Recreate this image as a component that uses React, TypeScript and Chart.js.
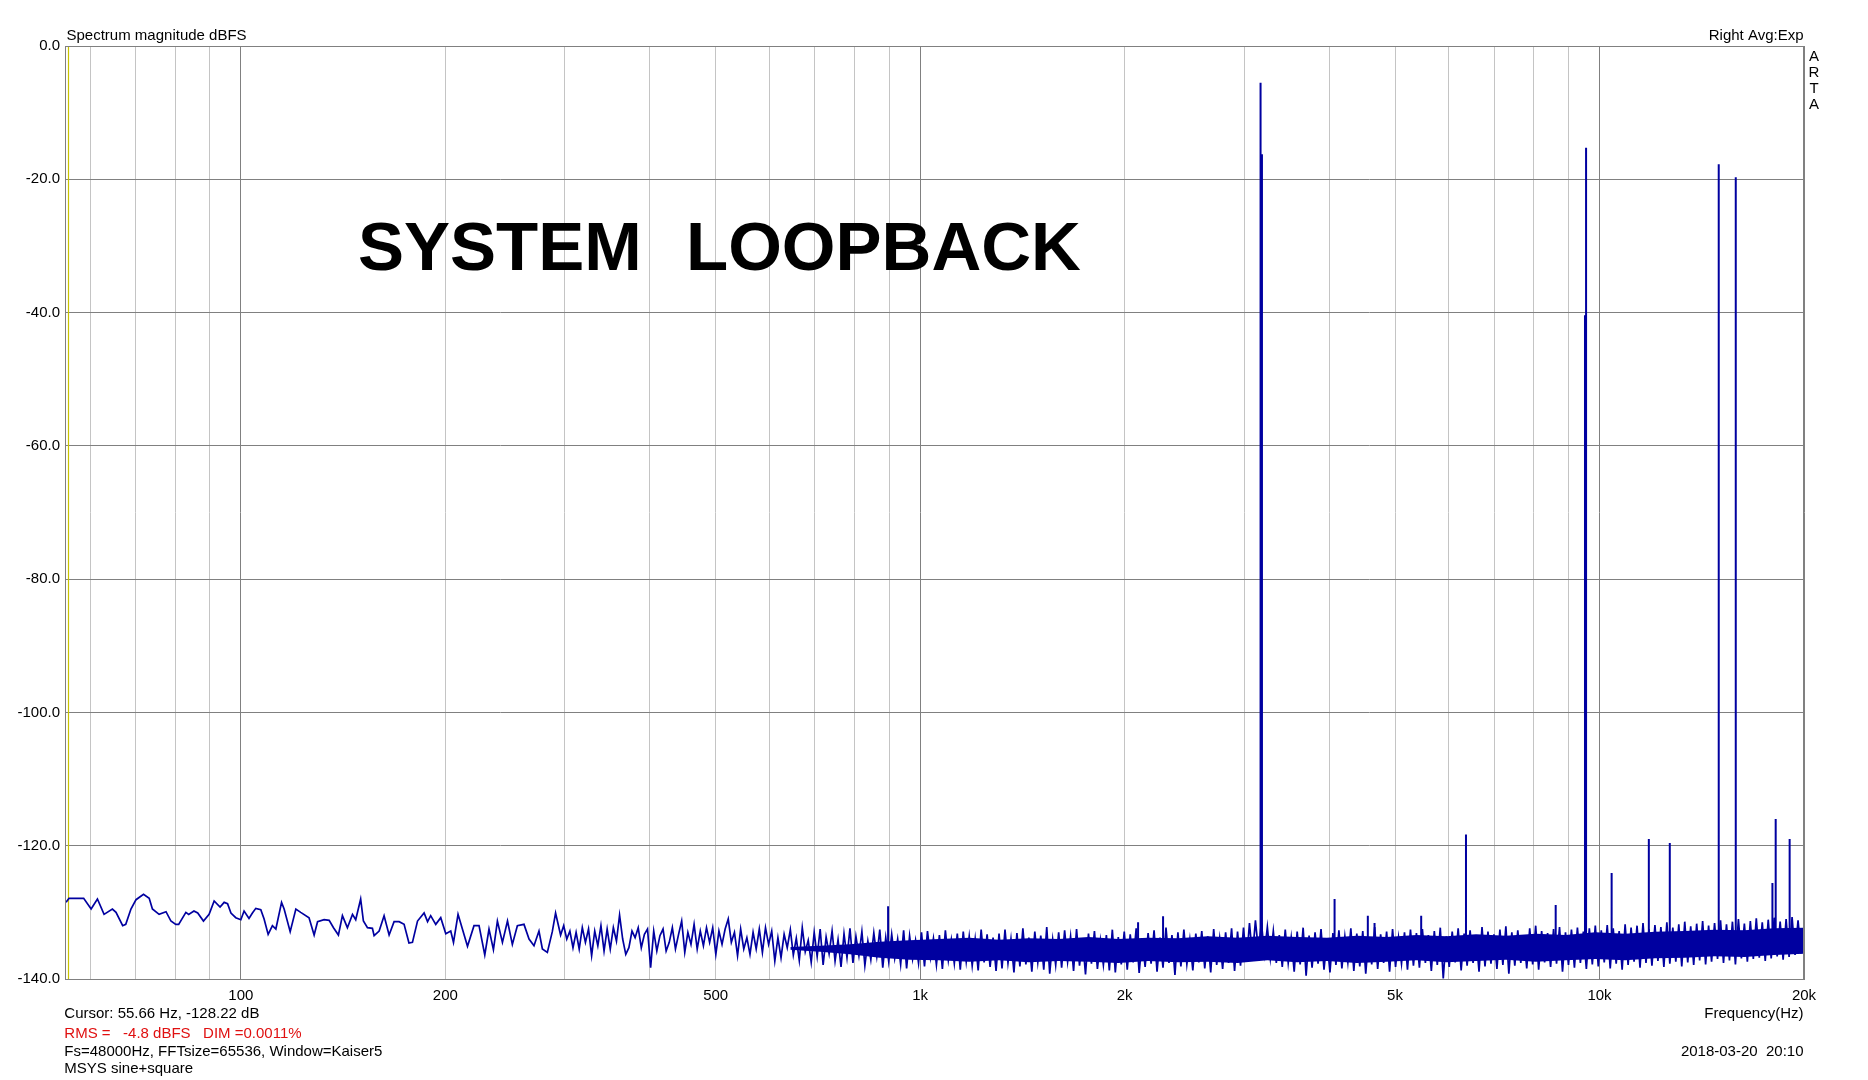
import React, { useEffect, useRef } from "react";
import { Chart, registerables } from "chart.js";

Chart.register(...registerables);

// ---------- axis definitions ----------
const X_MIN_HZ = 55.1;
const X_MAX_HZ = 20000;
const X_GRID_HZ = [60, 70, 80, 90, 100, 200, 300, 400, 500, 600, 700, 800, 900, 1000, 2000, 3000, 4000, 5000, 6000, 7000, 8000, 9000, 10000, 20000];
const X_MAJOR_HZ = [100, 1000, 10000, 20000];
const X_LABEL_HZ = [100, 200, 500, 1000, 2000, 5000, 10000, 20000];
const X_LABEL_TEXT = ["100", "200", "500", "1k", "2k", "5k", "10k", "20k"];
const Y_MIN_DB = -140;
const Y_MAX_DB = 0;
const Y_STEP_DB = 20;

// ---------- texts ----------
const Y_TITLE = "Spectrum magnitude dBFS";
const TOP_RIGHT = "Right Avg:Exp";
const SIDE_LETTERS = ["A", "R", "T", "A"];
const X_TITLE = "Frequency(Hz)";
const CHART_TITLE = "SYSTEM  LOOPBACK";
const INFO_LINES = [
  "Cursor: 55.66 Hz, -128.22 dB",
  "RMS =   -4.8 dBFS   DIM =0.0011%",
  "Fs=48000Hz, FFTsize=65536, Window=Kaiser5",
  "MSYS sine+square",
];
const DATE_TEXT = "2018-03-20  20:10";
const CURSOR_HZ = 55.66;

// ---------- spectrum: low-frequency trace (explicit bins) ----------
const LF_HZ = [55.3, 55.85, 58.7, 60.2, 61.5, 62.9, 64.7, 65.5, 67.0, 67.7, 68.9, 70.1, 71.9, 73.3, 74.1, 75.8, 77.6, 78.9, 80.2, 81.0, 83.0, 83.8, 85.3, 86.4, 88.1, 89.8, 91.35, 93.2, 94.5, 95.6, 96.7, 98.3, 100, 101.1, 102.8, 104.0, 105.2, 107.0, 108.2, 109.7, 111.3, 112.6, 114.8, 115.8, 118.2, 120.5, 122.5, 126.0, 128.2, 129.7, 132.6, 134.9, 136.9, 139.2, 141.1, 143.5, 146.0, 147.6, 150.1, 151.5, 153.6, 156.2, 157.1, 159.8, 162.5, 165.3, 168.1, 171.0, 173.9, 176.8, 178.9, 182.0, 186.1, 188.3, 190.3, 193.6, 196.9, 200.3, 203.7, 205.6, 208.8, 211.9, 215.6, 220.4, 224.2, 228.6, 231.9, 235.4, 238.6, 242.7, 246.9, 251.0, 255.3, 261.1, 265.6, 270.1, 274.7, 277.9, 282.6, 287.4, 290.6, 295.6];
const LF_DB = [-128.5, -127.9, -127.9, -129.5, -128.0, -130.3, -129.5, -130.0, -132.0, -131.8, -129.5, -128.1, -127.3, -127.9, -129.5, -130.3, -129.9, -131.3, -131.8, -131.8, -130.0, -130.3, -129.8, -130.1, -131.3, -130.3, -128.3, -129.2, -128.5, -128.7, -130.1, -130.8, -131.1, -129.8, -130.9, -130.1, -129.4, -129.6, -131.0, -133.3, -132.0, -132.5, -128.5, -129.5, -132.9, -129.5, -130.0, -130.8, -133.4, -131.4, -131.1, -131.2, -132.3, -133.4, -130.5, -132.3, -130.3, -131.1, -128.0, -131.3, -132.3, -132.4, -133.5, -132.8, -130.5, -133.4, -131.4, -131.4, -131.8, -134.6, -134.5, -131.3, -130.1, -131.4, -130.5, -131.8, -130.8, -133.2, -132.8, -134.5, -130.3, -132.5, -135.1, -132.0, -132.0, -136.4, -132.5, -135.6, -131.3, -134.5, -131.3, -134.8, -132.0, -131.8, -134.0, -135.0, -132.8, -135.5, -136.0, -132.9, -130.1, -133.4];

// ---------- spectrum: mid band (bins evenly spread over the band) ----------
const MID_START_HZ = 298.7;
const MID_END_HZ = 644;
const MID_DB = [-132.0, -134.0, -132.8, -135.3, -133.0, -135.5, -132.3, -134.5, -132.5, -136.5, -132.8, -135.0, -132.0, -135.8, -132.5, -135.5, -132.3, -134.3, -130.4, -134.0, -136.3, -135.3, -132.8, -133.8, -132.3, -135.3, -133.3, -132.5, -138.3, -132.8, -135.8, -133.5, -132.5, -135.8, -134.5, -132.3, -135.5, -133.3, -131.3, -136.0, -133.0, -134.8, -131.8, -135.5, -132.8, -135.0, -132.3, -134.5, -132.3, -136.3, -132.8, -134.8, -132.5, -131.0, -134.5, -133.0, -136.5, -132.5, -135.5, -133.8, -136.3, -133.0, -135.5, -132.5, -136.0, -132.3, -134.8, -132.8, -137.3, -133.8, -136.8, -133.3, -135.3];

// ---------- spectrum: dense band, upper / lower excursion per column ----------
const HI_START_HZ = 644;
const HI_END_HZ = 20000;
const HI_TOP_DB = [
  -132.6, -133.9, -132.3, -134.2, -133.0, -132.5, -133.7, -132.8, -134.1, -133.2, -132.4, -133.6, -132.9, -134.3, -133.1, -132.6, -133.8, -133.3, -134.0, -132.7, -133.5, -134.2, -133.0, -132.8, -133.9, -133.4, -132.7, -134.1, -133.2, -132.9, -133.6, -134.0, -132.6, -133.3, -133.8,
  -133.2, -132.6, -134.0, -133.1, -132.4, -133.8, -132.9, -133.5, -132.2, -134.1, -133.0, -132.7, -133.6, -132.5, -133.9, -133.2, -132.8, -134.2, -133.4, -132.6,
  -133.7, -132.9, -133.3, -132.4, -134.0, -133.1, -132.7, -133.8, -132.3, -133.4, -133.0, -132.6, -134.1, -133.2, -132.8, -133.6, -132.5, -133.9, -133.0, -132.4,
  -132.9, -132.3, -131.6, -131.2, -131.5, -132.2, -132.8,
  -133.4, -132.6, -133.8, -132.9, -132.3, -133.5, -133.0, -132.5, -134.0, -133.1, -132.7, -133.6, -132.4, -133.2, -132.8, -133.7, -132.2, -133.3, -132.9, -132.5, -133.8, -133.0, -132.6,
  -133.1, -132.5, -133.4, -132.8, -132.3, -133.6, -132.9, -132.4, -133.2, -132.7, -133.5, -132.2, -132.9, -133.3, -132.6, -132.1, -133.0, -132.7, -133.4, -132.4, -132.0, -132.8, -133.1, -132.5, -132.2, -133.0, -132.6, -132.3, -132.9, -132.4,
  -132.0, -132.7, -131.9, -132.4, -132.8, -131.8, -132.3, -132.0, -131.6, -132.5, -131.9, -132.2, -131.5, -132.3, -131.8, -131.4, -132.1, -131.7, -131.3, -132.0, -131.6, -131.2, -131.8, -131.4, -131.0, -131.7, -131.3, -130.9, -131.5, -131.1, -130.8, -131.4, -131.0, -130.7, -131.2,
];
const HI_BOT_DB = [
  -136.4, -137.2, -135.9, -137.5, -136.6, -137.9, -136.2, -137.3, -138.2, -136.8, -137.6, -136.5, -138.0, -137.1, -136.6, -138.3, -137.4, -136.9, -137.8, -138.4, -137.0, -137.6, -138.1, -136.8, -137.9, -138.5, -137.2, -137.7, -138.6, -137.4, -138.0, -138.7, -137.5, -138.2, -138.8,
  -138.4, -137.6, -139.0, -138.1, -137.8, -138.9, -137.5, -138.6, -139.2, -137.9, -138.3, -137.4, -138.8, -138.0, -139.3, -137.7, -138.5, -137.9, -138.7, -139.0,
  -137.8, -138.6, -137.5, -139.1, -138.2, -137.7, -138.9, -138.3, -137.6, -139.4, -138.1, -137.8, -138.7, -137.5, -138.4, -139.0, -137.9, -138.5, -137.6, -138.8,
  -138.0, -137.4, -136.6, -135.8, -136.2, -136.9, -137.6,
  -138.2, -137.6, -138.9, -137.8, -139.5, -138.3, -137.7, -138.6, -139.0, -137.9, -138.4, -137.5, -138.8, -138.1, -139.2, -137.8, -138.5, -137.6, -138.9, -138.2, -137.7, -138.6, -138.0,
  -138.3, -137.6, -138.8, -137.9, -139.9, -138.2, -137.5, -138.7, -138.0, -137.6, -138.9, -138.1, -137.7, -138.5, -137.9, -139.2, -138.0, -137.6, -138.4, -137.8, -138.6, -137.5, -138.2, -137.7, -138.9, -137.9, -138.3, -137.6, -138.5, -137.8,
  -138.1, -137.5, -138.4, -137.7, -138.6, -137.9, -137.4, -138.3, -137.6, -138.0, -137.3, -138.2, -137.7, -137.4, -138.1, -137.5, -137.9, -137.2, -137.8, -137.4, -137.0, -137.6, -137.2, -137.8, -136.9, -137.4, -137.0, -136.8, -137.3, -136.9, -136.6, -137.1, -136.7, -136.4, -136.2,
];

// ---------- spectrum: dense band, solid core edges (coarser grid) ----------
const CORE_TOP_DB = [-135.2, -135.0, -134.8, -134.4, -134.2, -134.0, -133.8, -134.1, -133.9, -134.0, -133.7, -134.0, -133.8, -133.9, -133.6, -133.8, -133.5, -133.7, -133.8, -133.5, -133.7, -133.4, -133.6, -133.3, -133.5, -133.2, -133.4, -133.0, -133.2, -132.9, -132.8, -132.6, -132.7, -132.4, -132.3];
const CORE_BOT_DB = [-135.6, -135.9, -136.3, -136.8, -137.1, -137.2, -137.4, -137.2, -137.5, -137.3, -137.4, -137.6, -137.3, -137.5, -137.4, -137.6, -137.2, -137.5, -137.3, -137.6, -137.4, -137.2, -137.5, -137.3, -137.1, -137.4, -137.2, -137.0, -137.2, -136.9, -136.8, -136.6, -136.7, -136.4, -136.2];

// ---------- spectral lines (tones, harmonics, spurs) ----------
const PEAK_HZ = [897, 2093, 2278, 3170, 3185, 4074, 4560, 4665, 5464, 6360, 8620, 9520, 9555, 10420, 11820, 12690, 14980, 15870, 17970, 18170, 19050];
const PEAK_DB = [-129.1, -131.5, -130.6, -5.5, -16.25, -128.0, -130.5, -131.6, -130.5, -118.3, -128.9, -40.4, -15.25, -124.1, -119.0, -119.6, -17.75, -19.7, -125.6, -116.0, -119.0];
const PEAK_BASE_DB = -135;

// ---------- styling ----------
const FONT = "'Liberation Sans', Arial, sans-serif";
const TRACE = "#0000a0";
const GRID_MAJOR = "#808080";
const GRID_MINOR = "#c4c4c4";

function logGrid(start: number, end: number, n: number, i: number) {
  return start * Math.pow(end / start, i / n);
}

function buildTrace() {
  const pts: { x: number; y: number }[] = [];
  LF_HZ.forEach((f, i) => pts.push({ x: f, y: LF_DB[i] }));
  const nm = MID_DB.length;
  MID_DB.forEach((v, i) => pts.push({ x: logGrid(MID_START_HZ, MID_END_HZ, nm, i), y: v }));
  const nh = HI_TOP_DB.length;
  for (let i = 0; i < nh; i++) {
    pts.push({ x: logGrid(HI_START_HZ, HI_END_HZ, nh, i), y: HI_TOP_DB[i] });
    pts.push({ x: logGrid(HI_START_HZ, HI_END_HZ, nh, i + 0.5), y: HI_BOT_DB[i] });
  }
  return pts;
}

function buildCore(values: number[]) {
  const n = values.length - 1;
  return values.map((v, i) => ({ x: logGrid(HI_START_HZ, HI_END_HZ, n, i), y: v }));
}

function buildPeaks() {
  const pts: { x: number; y: number | null }[] = [];
  PEAK_HZ.forEach((f, i) => {
    pts.push({ x: f, y: PEAK_BASE_DB });
    pts.push({ x: f, y: PEAK_DB[i] });
    pts.push({ x: f, y: null });
  });
  return pts;
}

const bgPlugin = {
  id: "bg",
  beforeDraw(chart: any) {
    const c = chart.ctx;
    c.save();
    c.fillStyle = "#ffffff";
    c.fillRect(0, 0, chart.width, chart.height);
    c.restore();
  },
};

const cursorPlugin = {
  id: "cursor",
  beforeDatasetsDraw(chart: any) {
    const c = chart.ctx;
    const a = chart.chartArea;
    const x = Math.round(chart.scales.x.getPixelForValue(CURSOR_HZ)) + 0.5;
    c.save();
    c.strokeStyle = "#c8c400";
    c.lineWidth = 1.2;
    c.beginPath();
    c.moveTo(x, a.top);
    c.lineTo(x, a.bottom);
    c.stroke();
    c.restore();
  },
};

const textPlugin = {
  id: "texts",
  afterDraw(chart: any) {
    const c = chart.ctx;
    const a = chart.chartArea;
    c.save();
    // frame
    c.strokeStyle = GRID_MAJOR;
    c.lineWidth = 1;
    c.strokeRect(Math.round(a.left) + 0.5, Math.round(a.top) + 0.5, Math.round(a.right - a.left) - 1, Math.round(a.bottom - a.top));

    c.fillStyle = "#000000";
    c.font = `15px ${FONT}`;
    c.textBaseline = "alphabetic";
    c.textAlign = "left";
    c.fillText(Y_TITLE, a.left + 1.5, 39.5);
    c.textAlign = "right";
    c.fillText(TOP_RIGHT, a.right - 0.5, 39.5);
    c.textAlign = "center";
    SIDE_LETTERS.forEach((s, i) => c.fillText(s, a.right + 10, 60.7 + i * 16));
    c.textAlign = "right";
    c.fillText(X_TITLE, a.right - 0.5, 1018);
    c.fillText(DATE_TEXT, a.right - 0.5, 1056);
    c.textAlign = "left";
    const ys = [1018.3, 1038, 1055.5, 1072.5];
    INFO_LINES.forEach((t, i) => {
      c.fillStyle = i === 1 ? "#e01010" : "#000000";
      c.fillText(t, 64.3, ys[i]);
    });

    c.fillStyle = "#000000";
    c.font = `bold 69px ${FONT}`;
    c.textAlign = "left";
    try {
      (c as any).wordSpacing = "3px";
    } catch (e) {
      /* ignore */
    }
    c.fillText(CHART_TITLE, 358, 270);
    c.restore();
  },
};

export default function App() {
  const ref = useRef<HTMLCanvasElement | null>(null);

  useEffect(() => {
    document.body.style.margin = "0";
    const canvas = ref.current;
    if (!canvas) return;
    const lineBase = { pointRadius: 0, tension: 0, borderColor: TRACE };
    const chart = new Chart(canvas, {
      type: "line",
      data: {
        datasets: [
          {
            ...lineBase,
            label: "core upper",
            data: buildCore(CORE_TOP_DB) as any,
            borderWidth: 0,
            fill: "+1",
            backgroundColor: TRACE,
          },
          { ...lineBase, label: "core lower", data: buildCore(CORE_BOT_DB) as any, borderWidth: 0, fill: false },
          { ...lineBase, label: "spectrum", data: buildTrace() as any, borderWidth: 1.7, fill: false },
          { ...lineBase, label: "lines", data: buildPeaks() as any, borderWidth: 2, fill: false, spanGaps: false },
        ],
      },
      options: {
        responsive: false,
        animation: false,
        devicePixelRatio: 1,
        events: [],
        layout: { padding: { top: 46, right: 64, left: 0, bottom: 0 } },
        plugins: { legend: { display: false }, tooltip: { enabled: false } },
        scales: {
          x: {
            type: "logarithmic",
            position: "bottom",
            min: X_MIN_HZ,
            max: X_MAX_HZ,
            afterBuildTicks: (scale: any) => {
              scale.ticks = X_GRID_HZ.map((v) => ({ value: v }));
            },
            afterFit: (scale: any) => {
              scale.height = 101;
            },
            ticks: {
              autoSkip: false,
              maxRotation: 0,
              minRotation: 0,
              padding: 8,
              color: "#000000",
              font: { family: FONT, size: 15 },
              callback: (v: any) => {
                const idx = X_LABEL_HZ.indexOf(Number(v));
                return idx >= 0 ? X_LABEL_TEXT[idx] : "";
              },
            },
            grid: {
              drawTicks: false,
              lineWidth: 1,
              color: (ctx: any) =>
                ctx.tick && X_MAJOR_HZ.includes(ctx.tick.value) ? GRID_MAJOR : GRID_MINOR,
            },
            border: { display: true, color: GRID_MAJOR },
          },
          y: {
            type: "linear",
            min: Y_MIN_DB,
            max: Y_MAX_DB,
            afterFit: (scale: any) => {
              scale.width = 65;
            },
            ticks: {
              stepSize: Y_STEP_DB,
              padding: 5,
              color: "#000000",
              font: { family: FONT, size: 15 },
              callback: (v: any) => Number(v).toFixed(1),
            },
            grid: { drawTicks: false, lineWidth: 1, color: GRID_MAJOR },
            border: { display: true, color: GRID_MAJOR },
          },
        },
      },
      plugins: [bgPlugin, cursorPlugin, textPlugin],
    });
    return () => chart.destroy();
  }, []);

  return (
    <div style={{ position: "absolute", left: 0, top: 0, width: 1868, height: 1080 }}>
      <canvas ref={ref} width={1868} height={1080} style={{ display: "block" }} />
    </div>
  );
}
